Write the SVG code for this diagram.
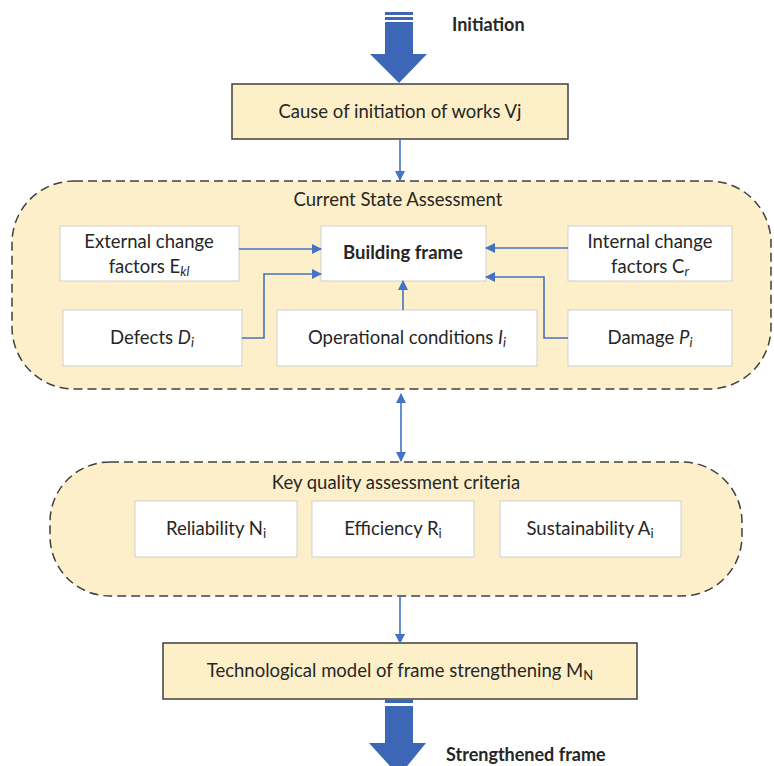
<svg xmlns="http://www.w3.org/2000/svg" width="774" height="766" viewBox="0 0 774 766">
<defs>
<style>
text{font-family:Lato,"Open Sans","Liberation Sans",sans-serif;font-size:18.5px;fill:#262626;}
.c{text-anchor:middle;}
.b{font-weight:bold;}
.box{fill:#ffffff;stroke:#cfcfcf;stroke-width:1;}
.ybox{fill:#fdf0c9;stroke:#404040;stroke-width:1.5;}
.cont{fill:#fcefc9;stroke:#404040;stroke-width:1.5;stroke-dasharray:9 5;}
.ln{fill:none;stroke:#4472c4;stroke-width:1.6;}
.big{fill:#3d66b6;}
.sub{font-size:13px;}
</style>
<marker id="ah" markerWidth="10" markerHeight="10" refX="9" refY="5" orient="auto" markerUnits="userSpaceOnUse" viewBox="0 0 10 10">
<path d="M0,0 L10,5 L0,10 z" fill="#4472c4"/>
</marker>
<marker id="ahs" markerWidth="10" markerHeight="10" refX="1" refY="5" orient="auto" markerUnits="userSpaceOnUse" viewBox="0 0 10 10">
<path d="M10,0 L0,5 L10,10 z" fill="#4472c4"/>
</marker>
</defs>
<rect width="774" height="766" fill="#ffffff"/>

<g id="initiation-arrow">
<rect class="big" x="385" y="12" width="28" height="3"/>
<rect class="big" x="385" y="17" width="28" height="3"/>
<path class="big" d="M385,22 H413 V54 H427 L399,83 L370,54 H385 z"/>
<text class="b" x="452" y="31" style="font-size:18px">Initiation</text>
</g>

<g id="cause">
<rect class="ybox" x="232" y="84" width="336" height="55"/>
<text class="c" x="400" y="118">Cause of initiation of works Vj</text>
</g>

<g id="current-state">
<rect class="cont" x="12" y="181" width="759" height="208" rx="62" ry="62"/>
<text class="c" x="398" y="206">Current State Assessment</text>
</g>

<g id="external">
<rect class="box" x="60" y="226" width="179" height="55"/>
<text class="c" x="149" y="248">External change</text>
<text class="c" x="149" y="273">factors E<tspan class="sub" font-style="italic" dy="3">kl</tspan></text>
</g>

<g id="building">
<rect class="box" x="321" y="226" width="165" height="55"/>
<text class="c b" x="403" y="259">Building frame</text>
</g>

<g id="internal">
<rect class="box" x="568" y="226" width="164" height="55"/>
<text class="c" x="650" y="248">Internal change</text>
<text class="c" x="650" y="273">factors C<tspan class="sub" font-style="italic" dy="3">r</tspan></text>
</g>

<g id="defects">
<rect class="box" x="63" y="310" width="179" height="56"/>
<text class="c" x="152" y="344">Defects <tspan font-style="italic">D</tspan><tspan class="sub" font-style="italic" dy="3">i</tspan></text>
</g>

<g id="operational">
<rect class="box" x="277" y="310" width="260" height="56"/>
<text class="c" x="407" y="344">Operational conditions <tspan font-style="italic">I</tspan><tspan class="sub" font-style="italic" dy="3">i</tspan></text>
</g>

<g id="damage">
<rect class="box" x="568" y="310" width="164" height="56"/>
<text class="c" x="650" y="344">Damage <tspan font-style="italic">P</tspan><tspan class="sub" font-style="italic" dy="3">i</tspan></text>
</g>

<g id="key-quality">
<rect class="cont" x="50" y="462" width="692" height="134" rx="60" ry="60"/>
<text class="c" x="396" y="489">Key quality assessment criteria</text>
</g>

<g id="reliability">
<rect class="box" x="135" y="501" width="162" height="56"/>
<text class="c" x="216" y="535">Reliability N<tspan class="sub" dy="3">i</tspan></text>
</g>

<g id="efficiency">
<rect class="box" x="312" y="501" width="162" height="56"/>
<text class="c" x="393" y="535">Efficiency R<tspan class="sub" dy="3">i</tspan></text>
</g>

<g id="sustainability">
<rect class="box" x="500" y="501" width="181" height="56"/>
<text class="c" x="590" y="535">Sustainability A<tspan class="sub" dy="3">i</tspan></text>
</g>

<g id="technological">
<rect class="ybox" x="163" y="643" width="474" height="56"/>
<text class="c" x="400" y="677">Technological model of frame strengthening M<tspan class="sub" dy="3">N</tspan></text>
</g>

<g id="strengthened-arrow">
<rect class="big" x="385" y="699" width="28" height="4"/>
<path class="big" d="M385,706 H413 V743 H426 L399,776 L369,743 H385 z"/>
<text class="b" x="446" y="761" style="font-size:18px">Strengthened frame</text>
</g>

<g id="connectors">
<line class="ln" x1="400" y1="140" x2="400" y2="180" marker-end="url(#ah)"/>
<line class="ln" x1="239" y1="249" x2="321" y2="249" marker-end="url(#ah)"/>
<polyline class="ln" points="242,338 264,338 264,274 321,274" marker-end="url(#ah)"/>
<line class="ln" x1="568" y1="248" x2="486" y2="248" marker-end="url(#ah)"/>
<polyline class="ln" points="568,338 544,338 544,277 486,277" marker-end="url(#ah)"/>
<line class="ln" x1="403" y1="310" x2="403" y2="281" marker-end="url(#ah)"/>
<line class="ln" x1="401" y1="394" x2="401" y2="461" marker-start="url(#ahs)" marker-end="url(#ah)"/>
<line class="ln" x1="400" y1="596" x2="400" y2="643" marker-end="url(#ah)"/>
</g>
</svg>
